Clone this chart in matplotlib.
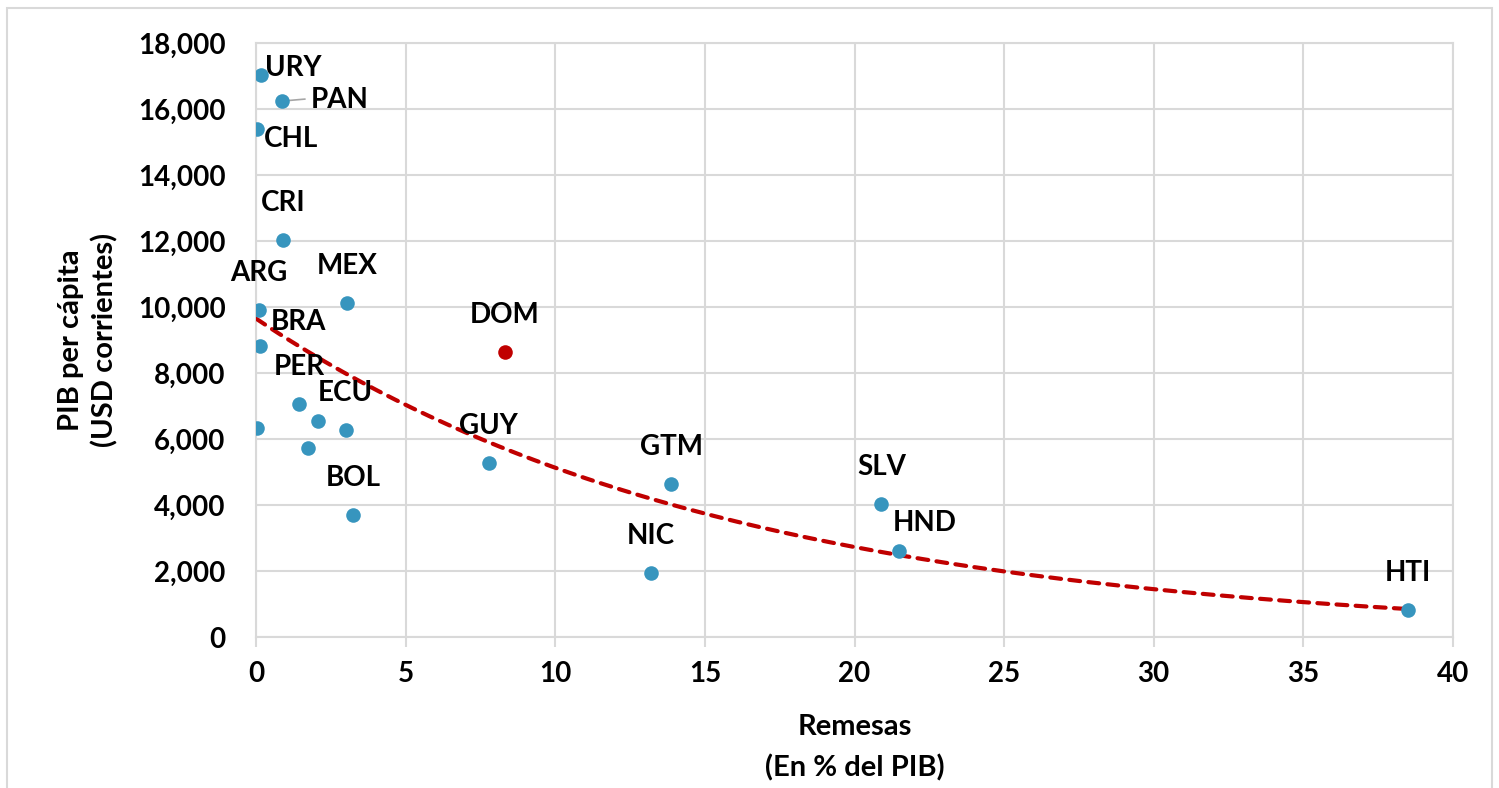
import numpy as np
import matplotlib
matplotlib.use("Agg")
from matplotlib import pyplot as plt
from matplotlib.patches import Rectangle

# data (remittances % of GDP, GDP per capita USD)
paises = ["URY", "PAN", "CHL", "CRI", "ARG", "MEX", "BRA", "PER", "", "ECU",
          "", "", "GUY", "BOL", "GTM", "NIC", "SLV", "HND", "HTI"]
remesas = [0.17, 0.87, 0.02, 0.90, 0.10, 3.04, 0.13, 1.44, 2.07, 3.00,
           0.02, 1.74, 7.78, 3.24, 13.87, 13.20, 20.90, 21.50, 38.50]
pib = [17030, 16240, 15390, 12030, 9910, 10120, 8820, 7060, 6550, 6270,
       6330, 5730, 5270, 3700, 4640, 1940, 4030, 2600, 820]

dom_remesas = 8.32
dom_pib = 8640

# exponential trend y = a * exp(-b x)
trend_a = 9650
trend_b = 0.0632
trend_xmax = 38.5

# label offsets in pixels (dx, dy) from the point
offsets = {"URY": (32, 7), "PAN": (58, 1), "CHL": (34, -10), "BRA": (39, 24),
           "HND": (25, 28)}
default_off = (0, 37)

blue = "#3795BE"
red = "#C00000"
grid_c = "#D9D9D9"
W = "bold"

plt.rcParams["font.family"] = ["Lato", "DejaVu Sans"]
plt.rcParams["font.weight"] = W

fig = plt.figure(figsize=(14.99, 7.88), dpi=100)
fig.patches.append(Rectangle((7 / 1499, -0.1), (1492 - 7) / 1499, 1.1 - 8 / 788,
                             transform=fig.transFigure, fill=False,
                             edgecolor=grid_c, lw=1.5))
ax = fig.add_axes([256 / 1499, 1 - 637 / 788, (1453 - 256) / 1499, (637 - 43) / 788])

# trend line
xt = np.linspace(0, trend_xmax, 200)
ax.plot(xt, trend_a * np.exp(-trend_b * xt), color=red, lw=3, ls=(0, (2.6, 2)),
        dash_capstyle="round", zorder=3)

ax.scatter(remesas, pib, s=110, color=blue, zorder=4, linewidths=0)
ax.scatter([dom_remesas], [dom_pib], s=110, color=red, zorder=4, linewidths=0)

for (name, x, y) in zip(paises + ["DOM"], remesas + [dom_remesas], pib + [dom_pib]):
    if not name:
        continue
    dx, dy = offsets.get(name, default_off)
    ax.annotate(name, (x, y), xytext=(dx, dy), textcoords="offset pixels",
                ha="center", va="center", fontsize=20, fontweight=W,
                zorder=5)
    if name == "PAN":
        ax.annotate("", (x, y), xytext=(23, 2), textcoords="offset pixels",
                    arrowprops=dict(arrowstyle="-", color="#A6A6A6", lw=1.2,
                                    shrinkA=0, shrinkB=0))

ax.set_xlim(0, 40)
ax.set_ylim(0, 18000)
ax.set_xticks(range(0, 41, 5))
ax.set_yticks(range(0, 18001, 2000))
ax.set_yticklabels(["{:,}".format(v) for v in range(0, 18001, 2000)])
ax.grid(True, color=grid_c, lw=1.5, zorder=0)
ax.set_axisbelow(True)
for s in ax.spines.values():
    s.set_color(grid_c)
    s.set_linewidth(1.5)
ax.tick_params(axis="x", length=7, width=1.5, color=grid_c, labelsize=20, pad=10)
ax.tick_params(axis="y", length=0, labelsize=20, pad=22)
for lab in ax.get_xticklabels() + ax.get_yticklabels():
    lab.set_fontweight(W)

ax.set_xlabel("Remesas\n(En % del PIB)", fontsize=21, fontweight=W,
              labelpad=20, linespacing=1.65)
ax.set_ylabel("PIB per cápita\n(USD corrientes)", fontsize=21, fontweight=W,
              labelpad=14, linespacing=1.3)

fig.savefig("out.png", dpi=100)
